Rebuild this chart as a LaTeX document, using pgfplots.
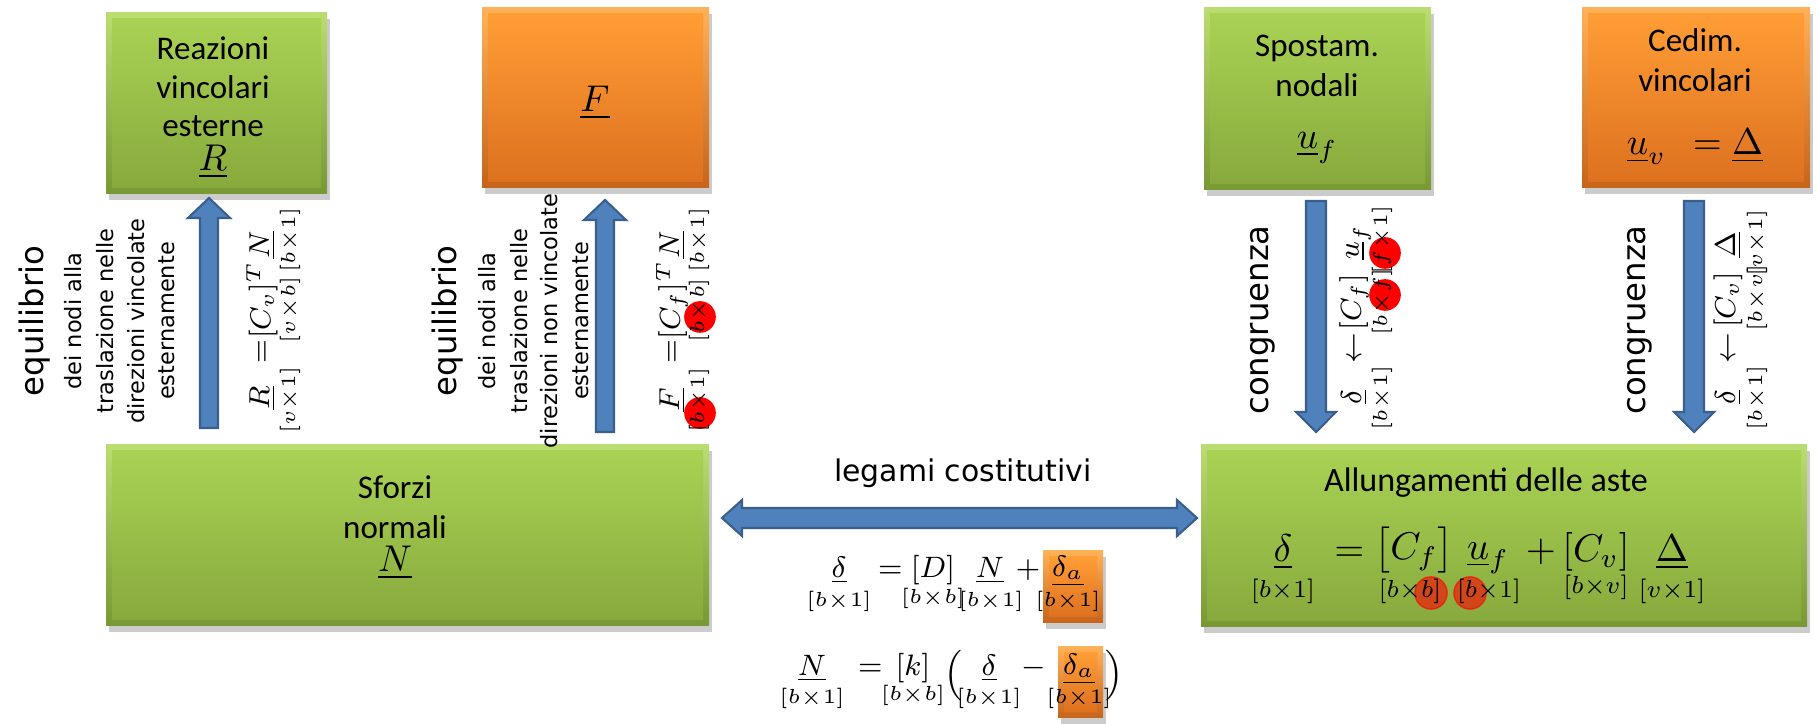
\RequirePackage{fix-cm}
\documentclass[border=0pt]{standalone}
\usepackage{amsmath}
\usepackage{fontspec}
\setmainfont{Carlito}
\newfontfamily\dejavu{DejaVu Sans}
\usepackage{pgfplots}
\pgfplotsset{compat=1.18}

\definecolor{gtop}{HTML}{A9D254}
\definecolor{gbot}{HTML}{88AA3D}
\definecolor{gedgetop}{HTML}{BADD72}
\definecolor{gedgebot}{HTML}{779833}
\definecolor{otop}{HTML}{FF9D35}
\definecolor{obot}{HTML}{DD7120}
\definecolor{oedgetop}{HTML}{FFB158}
\definecolor{oedgebot}{HTML}{C6641A}
\definecolor{afill}{HTML}{4F81BD}
\definecolor{aline}{HTML}{3A5F8C}

% size in pt (1 px of the reference = 0.2845 pt)
\newcommand\fs[1]{\fontsize{#1}{#1}\selectfont}

% bevelled box with a soft shadow: x1 y1 x2 y2 prefix(g/o)
\newcommand\shbox[5]{%
  \pgfmathtruncatemacro\ia{#1+6}\pgfmathtruncatemacro\ib{#2+6}%
  \pgfmathtruncatemacro\ic{#3-6}\pgfmathtruncatemacro\id{#4-6}%
  \addplot[on layer=axis background, draw=none, fill=black, fill opacity=0.2,
    xshift=0.9pt, yshift=-1.6pt]
    coordinates {(#1,#2) (#3,#2) (#3,#4) (#1,#4)} -- cycle;
  \addplot[on layer=axis background, draw=none, top color=#5edgetop, bottom color=#5edgebot]
    coordinates {(#1,#2) (#3,#2) (#3,#4) (#1,#4)} -- cycle;
  \addplot[on layer=axis background, draw=none, top color=#5top, bottom color=#5bot]
    coordinates {(\ia,\ib) (\ic,\ib) (\ic,\id) (\ia,\id)} -- cycle;
}

\begin{document}
\begin{tikzpicture}
\begin{axis}[
    set layers,
    scale only axis,
    width=181.6mm, height=72.1mm,
    xmin=0, xmax=1816, ymin=0, ymax=721,
    y dir=reverse,
    hide axis,
    clip=false,
]
\addplot[draw=none] coordinates {(0,0) (1816,721)};

% boxes
\shbox{106}{13}{327}{194}{g}
\shbox{482}{8}{709}{188}{o}
\shbox{1204}{8}{1431}{190}{g}
\shbox{1582}{8}{1810}{188}{o}
\shbox{106}{445}{709}{626}{g}
\shbox{1201}{445}{1807}{627}{g}
\shbox{1043}{551}{1103}{623}{o}
\shbox{1058}{647}{1103}{718}{o}

% block arrows
\addplot[on layer=axis grid, draw=aline, fill=afill, line width=0.6pt] coordinates {
  (200,428) (218,428) (218,218) (230,218) (209,198) (188,218) (200,218)} -- cycle;
\addplot[on layer=axis grid, draw=aline, fill=afill, line width=0.6pt] coordinates {
  (596,432) (614,432) (614,220) (626,220) (605,200) (584,220) (596,220)} -- cycle;
\addplot[on layer=axis grid, draw=aline, fill=afill, line width=0.6pt] coordinates {
  (1306,201) (1326,201) (1326,412) (1336,412) (1316,432) (1296,412) (1306,412)} -- cycle;
\addplot[on layer=axis grid, draw=aline, fill=afill, line width=0.6pt] coordinates {
  (1684,201) (1704,201) (1704,412) (1714,412) (1694,432) (1674,412) (1684,412)} -- cycle;
\addplot[on layer=axis grid, draw=aline, fill=afill, line width=0.6pt] coordinates {
  (722,518) (742,500) (742,508) (1177,508) (1177,500) (1197,518)
  (1177,536) (1177,528) (742,528) (742,536)} -- cycle;

% red highlights, under the formulas
\addplot[on layer=axis ticks, mark layer=axis ticks, only marks, mark=*,
  mark size=4.3pt, red] coordinates {
  (700,317) (700,413) (1385,253) (1385,295)};
\addplot[on layer=axis ticks, mark layer=axis ticks, only marks, mark=*,
  mark size=4.6pt, red, opacity=0.6] coordinates {
  (1431,593) (1470,593)};

% box texts
\begin{scope}[every node/.style={font=\fs{9.4}}]
\node at (213,48) {Reazioni};
\node at (213,87) {vincolari};
\node at (213,126) {esterne};
\node at (213,162) {\fs{10.6}$\underline{R}$};
\node at (595,103) {\fs{10.6}$\underline{F}$};
\node at (395,487) {Sforzi};
\node at (395,527) {normali};
\node at (395,563) {\fs{10.6}$\underline{N}$};
\node at (1317,48) {Spostam.};
\node at (1317,85) {nodali};
\node at (1317,148) {\fs{10.6}$\underline{u}_f$};
\node at (1695,40) {Cedim.};
\node at (1695,80) {vincolari};
\node at (1695,147) {\fs{10.6}$\underline{u}_v\;\,=\underline{\Delta}$};
\node at (1486,483) {\fs{9.7}Allungamenti delle aste};
\end{scope}

% rotated captions
\begin{scope}[every node/.style={rotate=90, font=\dejavu\fs{6.4}}]
\node[font=\dejavu\fs{9.2}] at (35,321) {equilibrio};
\node at (73,321) {dei nodi alla};
\node at (105,321) {traslazione nelle};
\node at (136,321) {direzioni vincolate};
\node at (167,321) {esternamente};
\node[font=\dejavu\fs{9.2}] at (448,321) {equilibrio};
\node at (487,321) {dei nodi alla};
\node at (519,321) {traslazione nelle};
\node at (549,321) {direzioni non vincolate};
\node at (581,321) {esternamente};
\node[font=\dejavu\fs{9.2}] at (1263,320) {congruenza};
\node[font=\dejavu\fs{9.2}] at (1640,320) {congruenza};
\end{scope}
\node[font=\dejavu\fs{8.5}] at (963,473) {legami costitutivi};

% rotated formulas, main row
\begin{scope}[every node/.style={rotate=90, font=\fs{8.2}, inner sep=0pt}]
\node at (262,398) {$\vphantom{[]}\underline{R}$};
\node at (262,356) {$\vphantom{[]}=$};
\node at (262,300) {$[C_v]^T$};
\node at (262,245) {$\vphantom{[]}\underline{N}$};
\node at (672,400) {$\vphantom{[]}\underline{F}$};
\node at (672,356) {$\vphantom{[]}=$};
\node at (672,300) {$[C_f]^T$};
\node at (672,245) {$\vphantom{[]}\underline{N}$};
\node at (1354,397) {$\vphantom{[]}\underline{\delta}$};
\node at (1354,352) {$\vphantom{[]}\leftarrow$};
\node at (1354,302) {$[C_f]$};
\node at (1354,242) {$\vphantom{[]}\underline{u}_f$};
\node at (1728,397) {$\vphantom{[]}\underline{\delta}$};
\node at (1728,352) {$\vphantom{[]}\leftarrow$};
\node at (1728,300) {$[C_v]$};
\node at (1728,245) {$\vphantom{[]}\underline{\Delta}$};
\end{scope}
% rotated formulas, size row
\begin{scope}[every node/.style={rotate=90, font=\fs{5.8}, inner sep=0pt}]
\node at (290,400) {$[v{\times}1]$};
\node at (290,310) {$[v{\times}b]$};
\node at (290,240) {$[b{\times}1]$};
\node at (699,400) {$[b{\times}1]$};
\node at (699,310) {$[b{\times}b]$};
\node at (699,240) {$[b{\times}1]$};
\node at (1382,398) {$[b{\times}1]$};
\node at (1382,302) {$[b{\times}f]$};
\node at (1382,240) {$[f{\times}1]$};
\node at (1757,398) {$[b{\times}1]$};
\node at (1757,298) {$[b{\times}v]$};
\node at (1757,243) {$[v{\times}1]$};
\end{scope}

% constitutive relations
\begin{scope}[every node/.style={font=\fs{8.4}, inner sep=0pt}]
\node at (839,570) {$\vphantom{[]}\underline{\delta}$};
\node at (886,570) {$\vphantom{[]}=$};
\node at (933,570) {$[D]$};
\node at (990,570) {$\vphantom{[]}\underline{N}$};
\node at (1028,570) {$\vphantom{[]}+$};
\node at (1068,570) {$\vphantom{[]}\underline{\delta_a}$};
\node at (812,668) {$\vphantom{[]}\underline{N}$};
\node at (866,668) {$\vphantom{[]}=$};
\node at (913,668) {$[k]$};
\node at (953,676) {$\Big($};
\node at (989,668) {$\vphantom{[]}\underline{\delta}$};
\node at (1034,668) {$\vphantom{[]}-$};
\node at (1079,668) {$\vphantom{[]}\underline{\delta_a}$};
\node at (1114,676) {$\Big)$};
\end{scope}
\begin{scope}[every node/.style={font=\fs{5.8}, inner sep=0pt}]
\node at (839,601) {$[b{\times}1]$};
\node at (933,598) {$[b{\times}b]$};
\node at (991,601) {$[b{\times}1]$};
\node at (1068,601) {$[b{\times}1]$};
\node at (812,698) {$[b{\times}1]$};
\node at (913,695) {$[b{\times}b]$};
\node at (989,698) {$[b{\times}1]$};
\node at (1079,698) {$[b{\times}1]$};
\end{scope}

% compatibility in the lower right box
\begin{scope}[every node/.style={font=\fs{11}, inner sep=0pt}]
\node at (1283,552) {$\vphantom{[]}\underline{\delta}$};
\node at (1344,552) {$\vphantom{[]}=$};
\node at (1414,550) {$\bigl[C_f\bigr]$};
\node at (1488,552) {$\vphantom{[]}\underline{u}_f$};
\node at (1541,552) {$\vphantom{[]}+$};
\node at (1596,552) {$[C_v]$};
\node at (1672,552) {$\vphantom{[]}\underline{\Delta}$};
\end{scope}
\begin{scope}[every node/.style={font=\fs{7}, inner sep=0pt}]
\node at (1283,591) {$[b{\times}1]$};
\node at (1410,591) {$[b{\times}b]$};
\node at (1489,591) {$[b{\times}1]$};
\node at (1596,587) {$[b{\times}v]$};
\node at (1672,591) {$[v{\times}1]$};
\end{scope}
\end{axis}
\end{tikzpicture}
\end{document}
